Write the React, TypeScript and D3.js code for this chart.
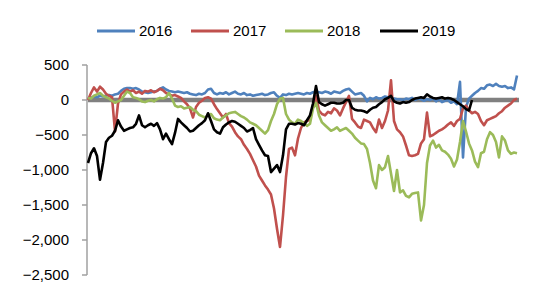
import React from "react";
import * as d3 from "d3";

const years = ["2016", "2017", "2018", "2019"];
const colors = ["#4F81BD", "#C0504D", "#9BBB59", "#000000"];
const yTicks = [500, 0, -500, -1000, -1500, -2000, -2500];

const s2016 = [
  20, 30, 50, 40, 60, 50, 60, 70, 60, 80,
  90, 130, 160, 170, 170, 160, 170, 150, 120, 110,
  100, 110, 120, 130, 160, 180, 150, 130, 120, 110,
  120, 110, 100, 110, 90, 80, 70, 90, 80, 100,
  150, 160, 100, 80, 100, 90, 110, 80, 100, 120,
  90, 80, 100, 70, 80, 60, 70, 80, 90, 70,
  80, 100, 110, 60, 30, 80, 70, 90, 80, 90,
  100, 90, 80, 100, 90, 110, 120, 110, 100, 120,
  110, 90, 120, 110, 100, 130, 150, 160, 120, 80,
  90, 100, 60, -20, 30, 10, 40, 20, 30, 50,
  40, 30, 20, 10, 10, 0, 20, 10, 30, 0,
  20, 10, -10, 10, 0, 20, -20, 10, -30, -10,
  0, -40, -20, -60, 260, -820, -100, 20, 60, 100,
  130, 170, 160, 210, 220, 200, 230, 200, 190, 200,
  170, 180, 150, 350,
];

const s2017 = [
  0, 100, 180, 120, 190, 150, 90, 60, 40, -450,
  -50, 80, 120, 150, 120, 140, 100, 120, 90, 130,
  120, 140, 110, 130, 160, 140, 100, 80, 60, 70,
  50, 30, -20, -60, -120, -250, -100, -40, -10, 30,
  40, 20, -60, -130, -190, -250, -200, -330, -380, -460,
  -520, -560, -640, -700, -770, -860, -950, -1080, -1150, -1220,
  -1280, -1350, -1550, -1840, -2100, -1650, -1100, -700, -680, -790,
  -550, -400, -320, -300, -280, -80, 60, -150, -200, -220,
  -170, -190, -120, -150, -220, -120, -30, 60, -270, -320,
  -380, -400, -280, -300, -320, -400, -460, -280, -400, -300,
  -150, 280, -300, -420, -460, -520, -650, -790, -800, -790,
  -770, -620, -560, -180, -520, -500, -470, -440, -420, -390,
  -350, -320, -370, -300, -270, -120, -80, -150, -190, -170,
  -200, -300, -360, -290, -270, -250, -230, -190, -160, -110,
  -80, -50, 0, 20,
];

const s2018 = [
  30, 20, 60, 80, 100, 60, 40, 20, -10, -40,
  -20, 0, 60, 120, 100, 40, 30, 10, -20, -30,
  -10, 0, -20, 10, 30, 20, 40, 100, 20, -80,
  -100, -90, -120, -110, -100, -140, -160, -210, -230, -250,
  -220, -200, -260, -280, -290, -250, -220, -190, -180, -170,
  -200, -230, -250, -280, -320, -340, -360, -400, -440, -480,
  -430, -300, -200, -60, 20, 30, -200, -280, -320, -340,
  -280, -300, -330, -370, -340, -120, -40, -220, -320, -360,
  -400, -440, -420, -390, -440, -420, -400, -440, -480, -540,
  -580, -620, -630, -700, -900, -1150, -1260, -930, -1000, -960,
  -800, -1050, -1300, -1000, -1320, -1290, -1370, -1390, -1340, -1330,
  -1320, -1720, -1500, -900, -650, -580, -680, -640, -720, -740,
  -780, -840, -950, -850, -600, -300, -450, -620, -720, -880,
  -960, -760, -740, -560, -460, -500, -600, -820, -520, -580,
  -720, -770, -750, -760,
];

const s2019 = [
  -900, -760, -690, -800, -1140, -900, -600, -540, -510, -440,
  -290, -380, -440, -420, -400, -390, -340, -220, -360, -390,
  -360, -340, -370, -330, -420, -560, -480, -560, -630, -470,
  -270, -320, -360, -400, -450, -440, -400, -360, -330, -290,
  -190, -300, -420, -460, -480, -390, -350, -320, -300, -310,
  -340, -370, -400, -450, -430, -400, -560, -640, -720, -790,
  -800, -1030, -980, -930, -1030, -790, -420, -340, -340, -350,
  -330, -340, -360, -290, -220, -50, 200, -30, -60, -80,
  -60, -40, -40, -50, -50, -40, 0, 0, -110, -140,
  -150, -150, -160, -180, -140, -110, -100, -60, -30, 10,
  30, 60, -20, -40, -50, -30, -40, -30, 0, 20,
  30, 40, 30, 80, 50, 30, 20, 30, 40, 20,
  30, 20, 0, -30, -60, -90, -130, -150, 0,
];

const series = [s2016, s2017, s2018, s2019];

export default function App() {
  const width = 544;
  const height = 292;
  const n = s2016.length;
  const x = d3.scaleLinear().domain([0, n - 1]).range([88, 517]);
  const y = d3.scaleLinear().domain([-2500, 500]).range([275, 65]);
  const line = d3
    .line<number>()
    .x((_, i) => x(i))
    .y((d) => y(d));

  const font = "'Liberation Sans', Arial, sans-serif";
  const legendX = [97, 191, 285, 380];

  return (
    <svg
      width={width}
      height={height}
      style={{ position: "absolute", left: 0, top: 0, background: "#fff" }}
      fontFamily={font}
    >
      {years.map((yr, i) => (
        <g key={yr}>
          <line
            x1={legendX[i]}
            x2={legendX[i] + 38}
            y1={31}
            y2={31}
            stroke={colors[i]}
            strokeWidth={3}
          />
          <text x={legendX[i] + 42} y={31} dy="0.36em" fontSize={15} fill="#000">
            {yr}
          </text>
        </g>
      ))}

      <line x1={87} x2={87} y1={y(500)} y2={y(-2500)} stroke="#A0A0A0" strokeWidth={1.5} />
      {yTicks.map((t) => (
        <g key={t}>
          <line x1={82} x2={87} y1={y(t)} y2={y(t)} stroke="#A0A0A0" strokeWidth={1.5} />
          <text
            x={69}
            y={y(t)}
            dy="0.36em"
            textAnchor="end"
            fontSize={15}
            fill="#000"
          >
            {d3.format(",")(t)}
          </text>
        </g>
      ))}

      <line x1={88} x2={519} y1={y(0)} y2={y(0)} stroke="#808080" strokeWidth={4.5} />

      {series.map((s, i) => (
        <path
          key={years[i]}
          d={line(s) || ""}
          fill="none"
          stroke={colors[i]}
          strokeWidth={2.6}
          strokeLinejoin="round"
        />
      ))}
    </svg>
  );
}
